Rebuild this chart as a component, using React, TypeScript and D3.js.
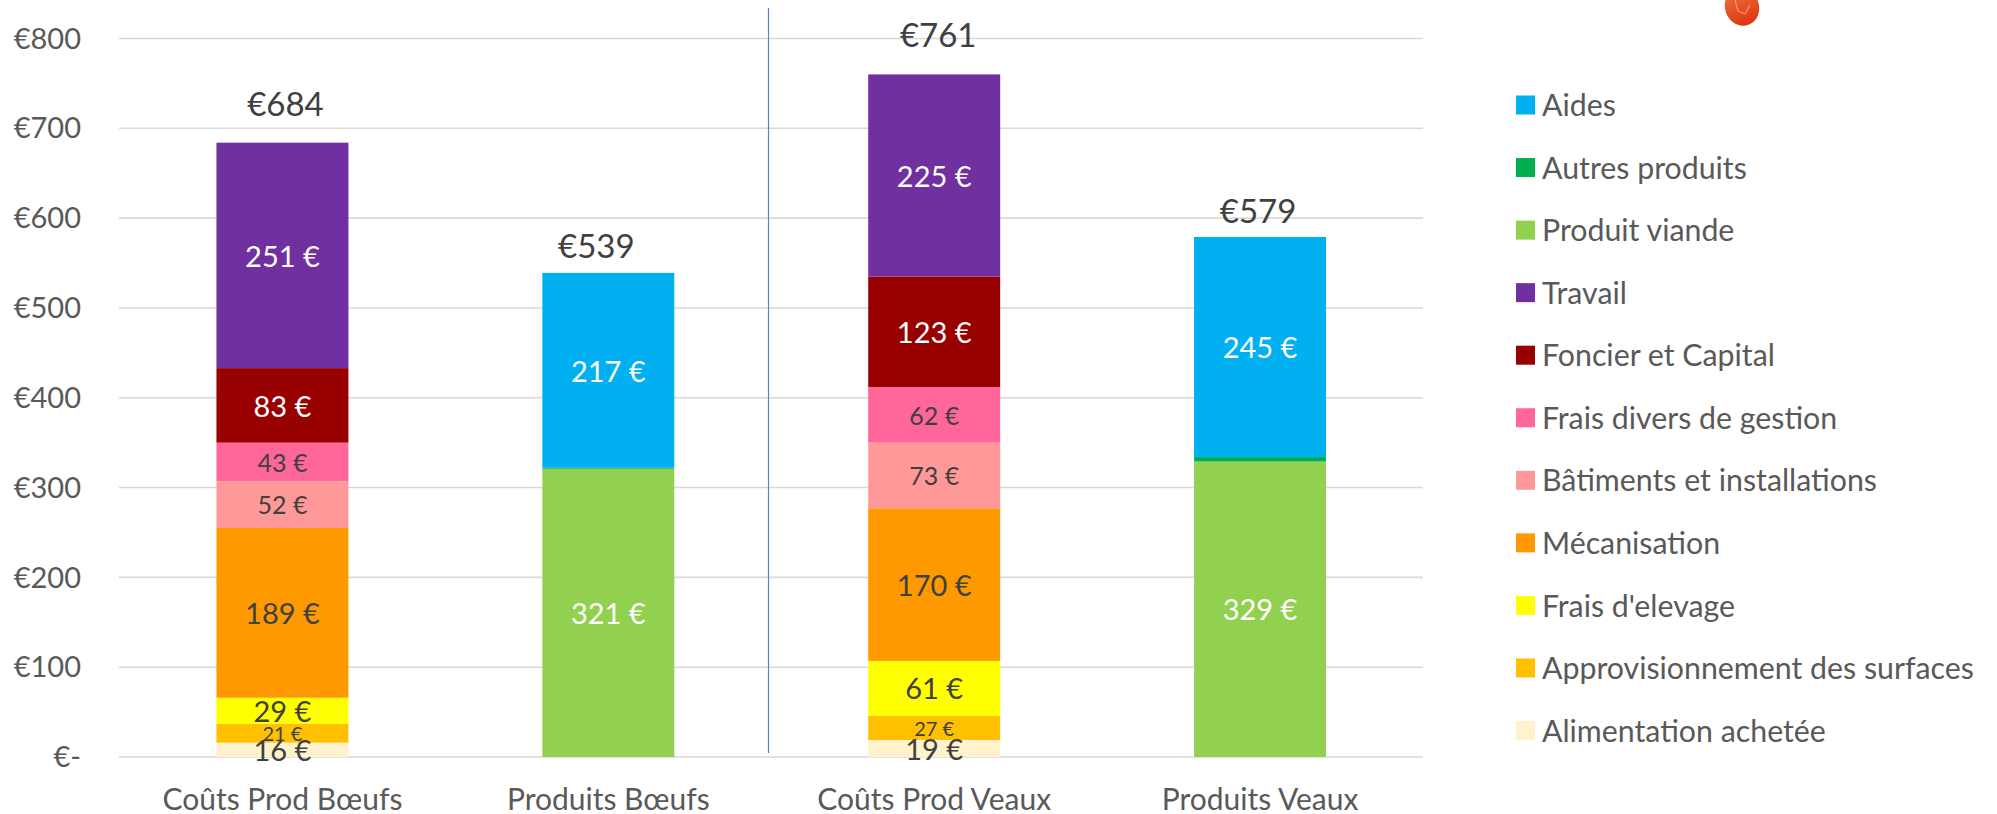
import * as d3 from "d3";

const width = 1997;
const height = 814;

// bottom to top of the stack
const seriesNames = [
  "Alimentation achetée",
  "Approvisionnement des surfaces",
  "Frais d'elevage",
  "Mécanisation",
  "Bâtiments et installations",
  "Frais divers de gestion",
  "Foncier et Capital",
  "Travail",
  "Produit viande",
  "Autres produits",
  "Aides",
];
const seriesColors = [
  "#fff2cc", "#ffc000", "#ffff00", "#ff9900", "#ff9999", "#ff6699",
  "#990000", "#7030a0", "#92d050", "#00b050", "#00b0f0",
];
const categories = ["Coûts Prod Bœufs", "Produits Bœufs", "Coûts Prod Veaux", "Produits Veaux"];

const alimentation = [16, 0, 19, 0];
const approvisionnement = [21, 0, 27, 0];
const fraisElevage = [29, 0, 61, 0];
const mecanisation = [189, 0, 170, 0];
const batiments = [52, 0, 73, 0];
const fraisDivers = [43, 0, 62, 0];
const foncier = [83, 0, 123, 0];
const travail = [251, 0, 225, 0];
const viande = [0, 321, 0, 329];
const autres = [0, 1, 0, 5];
const aides = [0, 217, 0, 245];
const seriesValues = [
  alimentation, approvisionnement, fraisElevage, mecanisation, batiments,
  fraisDivers, foncier, travail, viande, autres, aides,
];
const totals = [684, 539, 761, 579];
const yTicks = [0, 100, 200, 300, 400, 500, 600, 700, 800];

const font = "Lato, Carlito, 'Open Sans', sans-serif";
const darkText = "#404040";
const axisText = "#595959";
// labels that are white in the original
const whiteLabels = new Set(["Travail", "Foncier et Capital", "Produit viande", "Aides"]);
const smallLabels = new Set(["Approvisionnement des surfaces"]);
const mediumLabels = new Set(["Bâtiments et installations", "Frais divers de gestion"]);
// Excel left the totals a little off centre
const totalNudge = [3, -12, 4, -2];

export default function App() {
  const x = d3.scaleBand<string>().domain(categories).range([119.5, 1423]).paddingInner(0.595).paddingOuter(0.2975);
  const y = d3.scaleLinear().domain([0, 800]).range([757, 38.5]);

  const rows = categories.map((c, i) => {
    const row: Record<string, any> = { category: c };
    seriesNames.forEach((s, j) => (row[s] = seriesValues[j][i]));
    return row;
  });
  const stacked = d3.stack<any>().keys(seriesNames)(rows);

  const legendY = d3.scalePoint<string>()
    .domain([...seriesNames].reverse())
    .range([104.5, 730]);

  return (
    <svg width={width} height={height} style={{ position: "absolute", left: 0, top: 0, display: "block", background: "#fff" }} fontFamily={font}>
      <defs>
        <linearGradient id="logo" x1="0" y1="0" x2="0" y2="1">
          <stop offset="0" stopColor="#f0703a" />
          <stop offset="1" stopColor="#dc3412" />
        </linearGradient>
      </defs>

      {/* bit of logo cut off at the top of the slide */}
      <ellipse cx={1742} cy={7} rx={17} ry={19} fill="url(#logo)" transform="rotate(-20 1742 7)" />
      <path d="M1735 0 L1738 11 L1745 14 L1750 5" fill="none" stroke="#f6a98a" strokeWidth={1} />

      {yTicks.map((t) => (
        <g key={t}>
          <line x1={119} x2={1423} y1={y(t)} y2={y(t)} stroke="#d9d9d9" strokeWidth={1.6} />
          <text x={81} y={y(t)} dy="0.35em" textAnchor="end" fontSize={29} fill={axisText}>
            {t === 0 ? "€-" : `€${t}`}
          </text>
        </g>
      ))}

      <line x1={768.5} x2={768.5} y1={8} y2={753} stroke="#5b82c0" strokeWidth={1.2} />

      {stacked.map((layer, j) =>
        layer.map((d, i) => {
          const v = seriesValues[j][i];
          if (!v) return null;
          return (
            <rect key={`${j}-${i}`} x={x(categories[i])} width={x.bandwidth()} y={y(d[1])} height={y(d[0]) - y(d[1])} fill={seriesColors[j]} />
          );
        })
      )}

      {stacked.map((layer, j) =>
        layer.map((d, i) => {
          const v = seriesValues[j][i];
          const name = seriesNames[j];
          if (!v || name === "Autres produits") return null;
          const size = smallLabels.has(name) ? 20 : mediumLabels.has(name) ? 25 : 29;
          return (
            <text
              key={`l${j}-${i}`}
              x={x(categories[i])! + x.bandwidth() / 2}
              y={(y(d[0]) + y(d[1])) / 2 + 1}
              dy="0.35em"
              textAnchor="middle"
              fontSize={size}
              fill={whiteLabels.has(name) ? "#ffffff" : darkText}
            >
              {v} €
            </text>
          );
        })
      )}

      {categories.map((c, i) => (
        <g key={c}>
          <text x={x(c)! + x.bandwidth() / 2 + totalNudge[i]} y={y(totals[i]) - (i % 2 ? 26 : 38)} dy="0.35em" textAnchor="middle" fontSize={33} fill={darkText}>
            €{totals[i]}
          </text>
          <text x={x(c)! + x.bandwidth() / 2} y={799} dy="0.35em" textAnchor="middle" fontSize={30} fill={axisText}>
            {c}
          </text>
        </g>
      ))}

      {seriesNames.map((s, j) => (
        <g key={s}>
          <rect x={1516} y={legendY(s)! - 9} width={19} height={19} fill={seriesColors[j]} />
          <text x={1542} y={legendY(s)! + 1} dy="0.35em" fontSize={30.3} fill={axisText}>
            {s}
          </text>
        </g>
      ))}
    </svg>
  );
}
